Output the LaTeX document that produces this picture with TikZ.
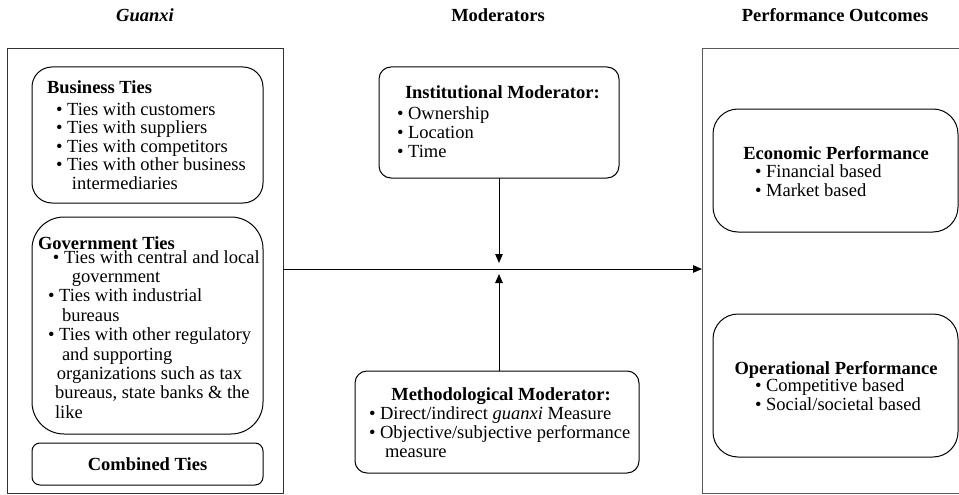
\documentclass[tikz,border=0pt]{standalone}
\usepackage{fontspec}
\setmainfont{Liberation Serif}
\usetikzlibrary{arrows.meta}
\newcommand\bul{\textbullet\ }
\begin{document}
\begin{tikzpicture}[x=1pt,y=-1pt,
  outer/.style={draw=black!80, line width=1pt, inner sep=0pt, outer sep=0pt},
  rbox/.style={draw=black, line width=1pt, inner sep=0pt, outer sep=0pt, rounded corners=#1},
  txt/.style={inner sep=0pt, outer sep=0pt, anchor=base west, font=\fontsize{18.5}{19.2}\selectfont},
  ttl/.style={inner sep=0pt, outer sep=0pt, anchor=base west, font=\fontsize{18.5}{19.2}\selectfont\bfseries},
  arr/.style={line width=1pt, -{Triangle[length=9pt,width=7.5pt]}}
]
\useasboundingbox (0,0) rectangle (959,495);
% headers
\node[ttl, anchor=base, font=\fontsize{18.5}{19.2}\selectfont\bfseries\itshape] (h1) at (145,22) {Guanxi};
\node[ttl, anchor=base] (h2) at (498,22) {Moderators};
\node[ttl, anchor=base] (h3) at (835,22) {Performance Outcomes};
% left outer box
\node[outer, minimum width=276pt, minimum height=444pt] (gbox) at (145,271) {};
% right outer box (open on the right)
\draw[draw=black!65, line width=1pt] (962,49) -- (702,49) -- (702,493) -- (962,493);
\coordinate (perfW) at (702,269);
% business ties
\node[rbox=20pt, minimum width=231pt, minimum height=136pt] (bus) at (147.5,135) {};
\node[ttl] (bt) at (47,94) {Business Ties};
\node[txt, font=\fontsize{18.5}{18.6}\selectfont] (bi) at (56,115) {\vtop{\hbox{\bul Ties with customers}\hbox{\bul Ties with suppliers}\hbox{\bul Ties with competitors}\hbox{\bul Ties with other business}\hbox{\hspace*{16pt}intermediaries}}};
% government ties
\node[rbox=32pt, minimum width=231pt, minimum height=217pt] (gov) at (147.5,325.5) {};
\node[ttl] (gt) at (38,249) {Government Ties};
\node[txt, font=\fontsize{18.5}{19.4}\selectfont] (gi) at (48,263) {\vtop{\hbox{\hspace*{5pt}\bul Ties with central and local}\hbox{\hspace*{24pt}government}\hbox{\bul Ties with industrial}\hbox{\hspace*{14pt}bureaus}\hbox{\bul Ties with other regulatory}\hbox{\hspace*{14pt}and supporting}\hbox{\hspace*{9pt}organizations such as tax}\hbox{\hspace*{7pt}bureaus, state banks \& the}\hbox{\hspace*{7pt}like}}};
% combined ties
\node[rbox=8pt, minimum width=231pt, minimum height=42pt, font=\fontsize{18.5}{19.2}\selectfont\bfseries] (comb) at (147.5,464) {Combined Ties};
% institutional moderator
\node[rbox=12pt, minimum width=240pt, minimum height=111pt] (inst) at (499,122.5) {};
\node[ttl] (it) at (405,99) {Institutional Moderator:};
\node[txt] (ii) at (397,119) {\vtop{\hbox{\bul Ownership}\hbox{\bul Location}\hbox{\bul Time}}};
% methodological moderator
\node[rbox=12pt, minimum width=284pt, minimum height=102pt] (meth) at (497,422) {};
\node[ttl, anchor=base] (mt) at (501,400) {Methodological Moderator:};
\node[txt] (mi) at (369,419) {\vtop{\hbox{\bul Direct/indirect \textit{guanxi} Measure}\hbox{\bul Objective/subjective performance}\hbox{\hspace*{16pt}measure}}};
% economic performance
\node[rbox=25pt, minimum width=245pt, minimum height=123pt] (eco) at (835.5,170.5) {};
\node[ttl, anchor=base] (et) at (836,159) {Economic Performance};
\node[txt] (ei) at (755,177) {\vtop{\hbox{\bul Financial based}\hbox{\bul Market based}}};
% operational performance
\node[rbox=25pt, minimum width=245pt, minimum height=143pt] (ope) at (835.5,385.5) {};
\node[ttl, anchor=base] (ot) at (836,374) {Operational Performance};
\node[txt] (oi) at (755,391) {\vtop{\hbox{\bul Competitive based}\hbox{\bul Social/societal based}}};
% connectors
\coordinate (mid) at (499,269);
\coordinate (tipA) at (499,263);
\coordinate (tipB) at (499,274);
\draw[arr] (gbox.east |- mid) -- (perfW);
\draw[arr] (inst.south) -- (tipA);
\draw[arr] (meth.north -| tipB) -- (tipB);
\end{tikzpicture}
\end{document}
